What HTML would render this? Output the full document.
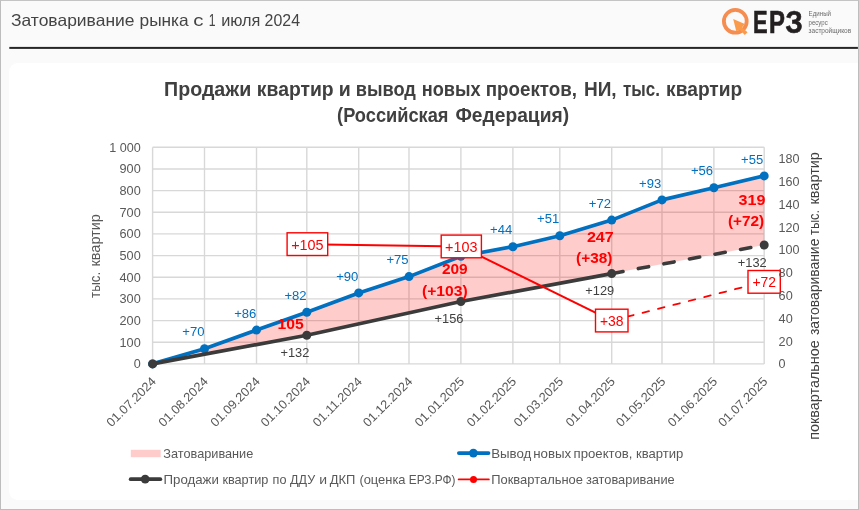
<!DOCTYPE html>
<html lang="ru">
<head>
<meta charset="utf-8">
<title>Затоваривание рынка с 1 июля 2024</title>
<style>
html,body{margin:0;padding:0;}
body{width:859px;height:510px;overflow:hidden;background:#FAFAFA;font-family:"Liberation Sans",sans-serif;position:relative;}
.frame{position:absolute;left:0;top:0;width:859px;height:510px;box-sizing:border-box;border-left:1.3px solid #BDBDBD;border-top:1px solid #C4C4C4;border-right:1.2px solid #BDBDBD;border-bottom:1.5px solid #BDBDBD;pointer-events:none;}
.panel{position:absolute;left:9px;top:62.5px;width:880px;height:437.5px;background:#FFFFFF;border-radius:9px;}
svg{position:absolute;left:0;top:0;font-family:"Liberation Sans",sans-serif;}
</style>
</head>
<body>
<div class="panel"></div>
<svg width="859" height="510" viewBox="0 0 859 510">
<line x1="152.6" x2="764.2" y1="363.9" y2="363.9" stroke="#D8D8D8" stroke-width="1.4"/>
<line x1="152.6" x2="764.2" y1="342.2" y2="342.2" stroke="#D8D8D8" stroke-width="1.4"/>
<line x1="152.6" x2="764.2" y1="320.6" y2="320.6" stroke="#D8D8D8" stroke-width="1.4"/>
<line x1="152.6" x2="764.2" y1="298.9" y2="298.9" stroke="#D8D8D8" stroke-width="1.4"/>
<line x1="152.6" x2="764.2" y1="277.3" y2="277.3" stroke="#D8D8D8" stroke-width="1.4"/>
<line x1="152.6" x2="764.2" y1="255.6" y2="255.6" stroke="#D8D8D8" stroke-width="1.4"/>
<line x1="152.6" x2="764.2" y1="233.9" y2="233.9" stroke="#D8D8D8" stroke-width="1.4"/>
<line x1="152.6" x2="764.2" y1="212.3" y2="212.3" stroke="#D8D8D8" stroke-width="1.4"/>
<line x1="152.6" x2="764.2" y1="190.6" y2="190.6" stroke="#D8D8D8" stroke-width="1.4"/>
<line x1="152.6" x2="764.2" y1="169.0" y2="169.0" stroke="#D8D8D8" stroke-width="1.4"/>
<line x1="152.6" x2="764.2" y1="147.3" y2="147.3" stroke="#D8D8D8" stroke-width="1.4"/>
<line x1="152.6" x2="152.6" y1="147.3" y2="363.9" stroke="#D8D8D8" stroke-width="1.4"/>
<line x1="204.5" x2="204.5" y1="147.3" y2="363.9" stroke="#D8D8D8" stroke-width="1.4"/>
<line x1="256.5" x2="256.5" y1="147.3" y2="363.9" stroke="#D8D8D8" stroke-width="1.4"/>
<line x1="306.8" x2="306.8" y1="147.3" y2="363.9" stroke="#D8D8D8" stroke-width="1.4"/>
<line x1="358.7" x2="358.7" y1="147.3" y2="363.9" stroke="#D8D8D8" stroke-width="1.4"/>
<line x1="409.0" x2="409.0" y1="147.3" y2="363.9" stroke="#D8D8D8" stroke-width="1.4"/>
<line x1="460.9" x2="460.9" y1="147.3" y2="363.9" stroke="#D8D8D8" stroke-width="1.4"/>
<line x1="512.9" x2="512.9" y1="147.3" y2="363.9" stroke="#D8D8D8" stroke-width="1.4"/>
<line x1="559.8" x2="559.8" y1="147.3" y2="363.9" stroke="#D8D8D8" stroke-width="1.4"/>
<line x1="611.7" x2="611.7" y1="147.3" y2="363.9" stroke="#D8D8D8" stroke-width="1.4"/>
<line x1="662.0" x2="662.0" y1="147.3" y2="363.9" stroke="#D8D8D8" stroke-width="1.4"/>
<line x1="713.9" x2="713.9" y1="147.3" y2="363.9" stroke="#D8D8D8" stroke-width="1.4"/>
<line x1="764.2" x2="764.2" y1="147.3" y2="363.9" stroke="#D8D8D8" stroke-width="1.4"/>
<polygon points="152.6,363.9 204.5,348.7 256.5,330.1 306.8,312.3 358.7,292.9 409.0,276.6 460.9,256.2 512.9,246.7 559.8,235.7 611.7,220.1 662.0,199.9 713.9,187.8 764.2,175.9 764.2,245.0 611.7,273.6 460.9,301.5 306.8,335.3 152.6,363.9" fill="#FF0000" fill-opacity="0.2"/>
<polyline points="152.6,363.9 204.5,348.7 256.5,330.1 306.8,312.3 358.7,292.9 409.0,276.6 460.9,256.2 512.9,246.7 559.8,235.7 611.7,220.1 662.0,199.9 713.9,187.8 764.2,175.9" fill="none" stroke="#0070C0" stroke-width="3.7" stroke-linejoin="round" stroke-linecap="round"/>
<circle cx="152.6" cy="363.9" r="4.5" fill="#0070C0"/>
<circle cx="204.5" cy="348.7" r="4.5" fill="#0070C0"/>
<circle cx="256.5" cy="330.1" r="4.5" fill="#0070C0"/>
<circle cx="306.8" cy="312.3" r="4.5" fill="#0070C0"/>
<circle cx="358.7" cy="292.9" r="4.5" fill="#0070C0"/>
<circle cx="409.0" cy="276.6" r="4.5" fill="#0070C0"/>
<circle cx="460.9" cy="256.2" r="4.5" fill="#0070C0"/>
<circle cx="512.9" cy="246.7" r="4.5" fill="#0070C0"/>
<circle cx="559.8" cy="235.7" r="4.5" fill="#0070C0"/>
<circle cx="611.7" cy="220.1" r="4.5" fill="#0070C0"/>
<circle cx="662.0" cy="199.9" r="4.5" fill="#0070C0"/>
<circle cx="713.9" cy="187.8" r="4.5" fill="#0070C0"/>
<circle cx="764.2" cy="175.9" r="4.5" fill="#0070C0"/>
<polyline points="152.6,363.9 306.8,335.3 460.9,301.5 611.7,273.6" fill="none" stroke="#3B3B3B" stroke-width="3.7" stroke-linejoin="round" stroke-linecap="round"/>
<line x1="611.7" y1="273.6" x2="764.2" y2="245.0" stroke="#3B3B3B" stroke-width="3.6" stroke-linecap="round" stroke-dasharray="10.4 15.6" stroke-dashoffset="-1.1"/>
<circle cx="152.6" cy="363.9" r="4.5" fill="#3B3B3B"/>
<circle cx="306.8" cy="335.3" r="4.5" fill="#3B3B3B"/>
<circle cx="460.9" cy="301.5" r="4.5" fill="#3B3B3B"/>
<circle cx="611.7" cy="273.6" r="4.5" fill="#3B3B3B"/>
<circle cx="764.2" cy="245.0" r="4.5" fill="#3B3B3B"/>
<polyline points="306.8,244.2 460.9,246.5 611.7,320.6" fill="none" stroke="#FF0000" stroke-width="2" stroke-linejoin="round"/>
<line x1="611.7" y1="320.6" x2="764.2" y2="281.8" stroke="#FF0000" stroke-width="1.8" stroke-linecap="round" stroke-dasharray="6.7 9.2"/>
<text x="182.3" y="336.3" font-size="12.5" fill="#0070C0" text-anchor="start" textLength="22.2" lengthAdjust="spacingAndGlyphs">+70</text>
<text x="234.2" y="317.7" font-size="12.5" fill="#0070C0" text-anchor="start" textLength="22.2" lengthAdjust="spacingAndGlyphs">+86</text>
<text x="284.4" y="299.9" font-size="12.5" fill="#0070C0" text-anchor="start" textLength="22.2" lengthAdjust="spacingAndGlyphs">+82</text>
<text x="336.2" y="280.5" font-size="12.5" fill="#0070C0" text-anchor="start" textLength="22.2" lengthAdjust="spacingAndGlyphs">+90</text>
<text x="386.4" y="264.2" font-size="12.5" fill="#0070C0" text-anchor="start" textLength="22.2" lengthAdjust="spacingAndGlyphs">+75</text>
<text x="490.1" y="234.3" font-size="12.5" fill="#0070C0" text-anchor="start" textLength="22.2" lengthAdjust="spacingAndGlyphs">+44</text>
<text x="537.0" y="223.3" font-size="12.5" fill="#0070C0" text-anchor="start" textLength="22.2" lengthAdjust="spacingAndGlyphs">+51</text>
<text x="588.8" y="207.7" font-size="12.5" fill="#0070C0" text-anchor="start" textLength="22.2" lengthAdjust="spacingAndGlyphs">+72</text>
<text x="639.0" y="187.5" font-size="12.5" fill="#0070C0" text-anchor="start" textLength="22.2" lengthAdjust="spacingAndGlyphs">+93</text>
<text x="690.9" y="175.4" font-size="12.5" fill="#0070C0" text-anchor="start" textLength="22.2" lengthAdjust="spacingAndGlyphs">+56</text>
<text x="741.0" y="163.5" font-size="12.5" fill="#0070C0" text-anchor="start" textLength="22.2" lengthAdjust="spacingAndGlyphs">+55</text>
<text x="280.4" y="356.9" font-size="12.5" fill="#404040" text-anchor="start" textLength="28.9" lengthAdjust="spacingAndGlyphs">+132</text>
<text x="434.5" y="323.1" font-size="12.5" fill="#404040" text-anchor="start" textLength="28.9" lengthAdjust="spacingAndGlyphs">+156</text>
<text x="585.3" y="295.2" font-size="12.5" fill="#404040" text-anchor="start" textLength="28.9" lengthAdjust="spacingAndGlyphs">+129</text>
<text x="737.8" y="266.6" font-size="12.5" fill="#404040" text-anchor="start" textLength="28.9" lengthAdjust="spacingAndGlyphs">+132</text>
<text x="277.5" y="329.1" font-size="14.8" fill="#FF0000" text-anchor="start" font-weight="bold" textLength="26.2" lengthAdjust="spacingAndGlyphs">105</text>
<text x="441.9" y="273.8" font-size="14.8" fill="#FF0000" text-anchor="start" font-weight="bold" textLength="25.8" lengthAdjust="spacingAndGlyphs">209</text>
<text x="422.0" y="296.2" font-size="14.8" fill="#FF0000" text-anchor="start" font-weight="bold" textLength="45.7" lengthAdjust="spacingAndGlyphs">(+103)</text>
<text x="586.9" y="241.9" font-size="14.8" fill="#FF0000" text-anchor="start" font-weight="bold" textLength="26.9" lengthAdjust="spacingAndGlyphs">247</text>
<text x="576.1" y="262.5" font-size="14.8" fill="#FF0000" text-anchor="start" font-weight="bold" textLength="36.3" lengthAdjust="spacingAndGlyphs">(+38)</text>
<text x="738.5" y="205.1" font-size="14.8" fill="#FF0000" text-anchor="start" font-weight="bold" textLength="26.9" lengthAdjust="spacingAndGlyphs">319</text>
<text x="727.9" y="226.3" font-size="14.8" fill="#FF0000" text-anchor="start" font-weight="bold" textLength="36.3" lengthAdjust="spacingAndGlyphs">(+72)</text>
<rect x="287.1" y="232.8" width="40.6" height="22.7" fill="#FFFFFF" stroke="#FF0000" stroke-width="1.4"/>
<text x="291.2" y="249.5" font-size="14.1" fill="#FF0000" text-anchor="start" textLength="32.4" lengthAdjust="spacingAndGlyphs">+105</text>
<rect x="441.2" y="235.1" width="40.2" height="22.7" fill="#FFFFFF" stroke="#FF0000" stroke-width="1.4"/>
<text x="445.1" y="251.8" font-size="14.1" fill="#FF0000" text-anchor="start" textLength="32.4" lengthAdjust="spacingAndGlyphs">+103</text>
<rect x="595.5" y="309.2" width="32.5" height="22.7" fill="#FFFFFF" stroke="#FF0000" stroke-width="1.4"/>
<text x="599.9" y="325.9" font-size="14.1" fill="#FF0000" text-anchor="start" textLength="23.6" lengthAdjust="spacingAndGlyphs">+38</text>
<rect x="748.0" y="270.5" width="32.3" height="22.7" fill="#FFFFFF" stroke="#FF0000" stroke-width="1.4"/>
<text x="752.4" y="287.1" font-size="14.1" fill="#FF0000" text-anchor="start" textLength="23.6" lengthAdjust="spacingAndGlyphs">+72</text>
<text x="133.7" y="368.3" font-size="12.5" fill="#595959" text-anchor="start" textLength="7.0" lengthAdjust="spacingAndGlyphs">0</text>
<text x="119.5" y="346.7" font-size="12.5" fill="#595959" text-anchor="start" textLength="21.2" lengthAdjust="spacingAndGlyphs">100</text>
<text x="119.5" y="325.0" font-size="12.5" fill="#595959" text-anchor="start" textLength="21.2" lengthAdjust="spacingAndGlyphs">200</text>
<text x="119.5" y="303.4" font-size="12.5" fill="#595959" text-anchor="start" textLength="21.2" lengthAdjust="spacingAndGlyphs">300</text>
<text x="119.5" y="281.7" font-size="12.5" fill="#595959" text-anchor="start" textLength="21.2" lengthAdjust="spacingAndGlyphs">400</text>
<text x="119.5" y="260.1" font-size="12.5" fill="#595959" text-anchor="start" textLength="21.2" lengthAdjust="spacingAndGlyphs">500</text>
<text x="119.5" y="238.4" font-size="12.5" fill="#595959" text-anchor="start" textLength="21.2" lengthAdjust="spacingAndGlyphs">600</text>
<text x="119.5" y="216.7" font-size="12.5" fill="#595959" text-anchor="start" textLength="21.2" lengthAdjust="spacingAndGlyphs">700</text>
<text x="119.5" y="195.1" font-size="12.5" fill="#595959" text-anchor="start" textLength="21.2" lengthAdjust="spacingAndGlyphs">800</text>
<text x="119.5" y="173.4" font-size="12.5" fill="#595959" text-anchor="start" textLength="21.2" lengthAdjust="spacingAndGlyphs">900</text>
<text x="109.2" y="151.8" font-size="12.5" fill="#595959" text-anchor="start" textLength="31.5" lengthAdjust="spacingAndGlyphs">1 000</text>
<text x="778.6" y="368.3" font-size="12.5" fill="#595959" text-anchor="start" textLength="7.0" lengthAdjust="spacingAndGlyphs">0</text>
<text x="778.6" y="345.5" font-size="12.5" fill="#595959" text-anchor="start" textLength="14.1" lengthAdjust="spacingAndGlyphs">20</text>
<text x="778.6" y="322.7" font-size="12.5" fill="#595959" text-anchor="start" textLength="14.1" lengthAdjust="spacingAndGlyphs">40</text>
<text x="778.6" y="299.9" font-size="12.5" fill="#595959" text-anchor="start" textLength="14.1" lengthAdjust="spacingAndGlyphs">60</text>
<text x="778.6" y="277.1" font-size="12.5" fill="#595959" text-anchor="start" textLength="14.1" lengthAdjust="spacingAndGlyphs">80</text>
<text x="778.6" y="254.3" font-size="12.5" fill="#595959" text-anchor="start" textLength="21.0" lengthAdjust="spacingAndGlyphs">100</text>
<text x="778.6" y="231.5" font-size="12.5" fill="#595959" text-anchor="start" textLength="21.0" lengthAdjust="spacingAndGlyphs">120</text>
<text x="778.6" y="208.7" font-size="12.5" fill="#595959" text-anchor="start" textLength="21.0" lengthAdjust="spacingAndGlyphs">140</text>
<text x="778.6" y="185.9" font-size="12.5" fill="#595959" text-anchor="start" textLength="21.0" lengthAdjust="spacingAndGlyphs">160</text>
<text x="778.6" y="163.1" font-size="12.5" fill="#595959" text-anchor="start" textLength="21.0" lengthAdjust="spacingAndGlyphs">180</text>
<text transform="translate(156.8,382.3) rotate(-45)" x="-64" y="0" font-size="12.5" fill="#595959" textLength="64" lengthAdjust="spacingAndGlyphs">01.07.2024</text>
<text transform="translate(208.7,382.3) rotate(-45)" x="-64" y="0" font-size="12.5" fill="#595959" textLength="64" lengthAdjust="spacingAndGlyphs">01.08.2024</text>
<text transform="translate(260.7,382.3) rotate(-45)" x="-64" y="0" font-size="12.5" fill="#595959" textLength="64" lengthAdjust="spacingAndGlyphs">01.09.2024</text>
<text transform="translate(311.0,382.3) rotate(-45)" x="-64" y="0" font-size="12.5" fill="#595959" textLength="64" lengthAdjust="spacingAndGlyphs">01.10.2024</text>
<text transform="translate(362.9,382.3) rotate(-45)" x="-64" y="0" font-size="12.5" fill="#595959" textLength="64" lengthAdjust="spacingAndGlyphs">01.11.2024</text>
<text transform="translate(413.2,382.3) rotate(-45)" x="-64" y="0" font-size="12.5" fill="#595959" textLength="64" lengthAdjust="spacingAndGlyphs">01.12.2024</text>
<text transform="translate(465.1,382.3) rotate(-45)" x="-64" y="0" font-size="12.5" fill="#595959" textLength="64" lengthAdjust="spacingAndGlyphs">01.01.2025</text>
<text transform="translate(517.1,382.3) rotate(-45)" x="-64" y="0" font-size="12.5" fill="#595959" textLength="64" lengthAdjust="spacingAndGlyphs">01.02.2025</text>
<text transform="translate(564.0,382.3) rotate(-45)" x="-64" y="0" font-size="12.5" fill="#595959" textLength="64" lengthAdjust="spacingAndGlyphs">01.03.2025</text>
<text transform="translate(615.9,382.3) rotate(-45)" x="-64" y="0" font-size="12.5" fill="#595959" textLength="64" lengthAdjust="spacingAndGlyphs">01.04.2025</text>
<text transform="translate(666.2,382.3) rotate(-45)" x="-64" y="0" font-size="12.5" fill="#595959" textLength="64" lengthAdjust="spacingAndGlyphs">01.05.2025</text>
<text transform="translate(718.1,382.3) rotate(-45)" x="-64" y="0" font-size="12.5" fill="#595959" textLength="64" lengthAdjust="spacingAndGlyphs">01.06.2025</text>
<text transform="translate(768.4,382.3) rotate(-45)" x="-64" y="0" font-size="12.5" fill="#595959" textLength="64" lengthAdjust="spacingAndGlyphs">01.07.2025</text>
<text y="0.0" font-size="14.1" fill="#595959" transform="translate(99.6,297.2) rotate(-90)"><tspan x="-0.7" textLength="26.0" lengthAdjust="spacingAndGlyphs">тыс.</tspan> <tspan x="30.7" textLength="52.4" lengthAdjust="spacingAndGlyphs">квартир</tspan></text>
<text y="0.0" font-size="14.1" fill="#404040" transform="translate(818.7,439.1) rotate(-90)"><tspan x="-0.7" textLength="99.5" lengthAdjust="spacingAndGlyphs">поквартальное</tspan> <tspan x="104.0" textLength="96.5" lengthAdjust="spacingAndGlyphs">затоваривание</tspan> <tspan x="204.2" textLength="24.9" lengthAdjust="spacingAndGlyphs">тыс.</tspan> <tspan x="234.6" textLength="52.4" lengthAdjust="spacingAndGlyphs">квартир</tspan></text>
<rect x="130.8" y="449.8" width="29.9" height="7.4" fill="#FFCCCC"/>
<text x="163.3" y="457.6" font-size="13" fill="#595959" text-anchor="start" textLength="90.0" lengthAdjust="spacingAndGlyphs">Затоваривание</text>
<line x1="130.7" x2="160.3" y1="479.2" y2="479.2" stroke="#3B3B3B" stroke-width="3.8" stroke-linecap="round"/><circle cx="145.2" cy="479.2" r="4.4" fill="#3B3B3B"/>
<text y="483.7" font-size="13" fill="#595959"><tspan x="163.5" textLength="55.4" lengthAdjust="spacingAndGlyphs">Продажи</tspan> <tspan x="222.4" textLength="46.0" lengthAdjust="spacingAndGlyphs">квартир</tspan> <tspan x="272.6" textLength="13.9" lengthAdjust="spacingAndGlyphs">по</tspan> <tspan x="290.1" textLength="25.0" lengthAdjust="spacingAndGlyphs">ДДУ</tspan> <tspan x="319.2" textLength="7.8" lengthAdjust="spacingAndGlyphs">и</tspan> <tspan x="329.7" textLength="25.7" lengthAdjust="spacingAndGlyphs">ДКП</tspan> <tspan x="359.4" textLength="46.1" lengthAdjust="spacingAndGlyphs">(оценка</tspan> <tspan x="408.8" textLength="46.7" lengthAdjust="spacingAndGlyphs">ЕРЗ.РФ)</tspan></text>
<line x1="458.9" x2="488.5" y1="453.1" y2="453.1" stroke="#0070C0" stroke-width="3.8" stroke-linecap="round"/><circle cx="473.4" cy="453.1" r="4.4" fill="#0070C0"/>
<text y="457.6" font-size="13" fill="#595959"><tspan x="491.2" textLength="40.2" lengthAdjust="spacingAndGlyphs">Вывод</tspan> <tspan x="533.2" textLength="38.0" lengthAdjust="spacingAndGlyphs">новых</tspan> <tspan x="573.6" textLength="58.8" lengthAdjust="spacingAndGlyphs">проектов,</tspan> <tspan x="636.0" textLength="47.3" lengthAdjust="spacingAndGlyphs">квартир</tspan></text>
<line x1="458.7" x2="488.8" y1="479.4" y2="479.4" stroke="#FF0000" stroke-width="1.9" stroke-linecap="round"/><circle cx="473.5" cy="479.4" r="3.5" fill="#FF0000"/>
<text y="483.6" font-size="13" fill="#595959"><tspan x="491.2" textLength="91.8" lengthAdjust="spacingAndGlyphs">Поквартальное</tspan> <tspan x="585.9" textLength="88.8" lengthAdjust="spacingAndGlyphs">затоваривание</tspan></text>
<text y="96.0" font-size="19.4" fill="#404040" font-weight="bold"><tspan x="164.1" textLength="87.1" lengthAdjust="spacingAndGlyphs">Продажи</tspan> <tspan x="256.8" textLength="76.9" lengthAdjust="spacingAndGlyphs">квартир</tspan> <tspan x="338.7" textLength="12.0" lengthAdjust="spacingAndGlyphs">и</tspan> <tspan x="355.8" textLength="60.1" lengthAdjust="spacingAndGlyphs">вывод</tspan> <tspan x="421.7" textLength="58.9" lengthAdjust="spacingAndGlyphs">новых</tspan> <tspan x="485.7" textLength="91.3" lengthAdjust="spacingAndGlyphs">проектов,</tspan> <tspan x="583.9" textLength="32.7" lengthAdjust="spacingAndGlyphs">НИ,</tspan> <tspan x="623.0" textLength="36.9" lengthAdjust="spacingAndGlyphs">тыс.</tspan> <tspan x="666.1" textLength="76.2" lengthAdjust="spacingAndGlyphs">квартир</tspan></text>
<text y="122.2" font-size="19.4" fill="#404040" font-weight="bold"><tspan x="337.1" textLength="111.4" lengthAdjust="spacingAndGlyphs">(Российская</tspan> <tspan x="455.4" textLength="113.7" lengthAdjust="spacingAndGlyphs">Федерация)</tspan></text>
<text y="26.1" font-size="16.5" fill="#444444"><tspan x="11.0" textLength="123.5" lengthAdjust="spacingAndGlyphs">Затоваривание</tspan> <tspan x="139.5" textLength="49.2" lengthAdjust="spacingAndGlyphs">рынка</tspan> <tspan x="193.3" textLength="10.2" lengthAdjust="spacingAndGlyphs">с</tspan> <tspan x="208.7" textLength="6.8" lengthAdjust="spacingAndGlyphs">1</tspan> <tspan x="221.2" textLength="39.2" lengthAdjust="spacingAndGlyphs">июля</tspan> <tspan x="264.6" textLength="35.4" lengthAdjust="spacingAndGlyphs">2024</tspan></text>
<rect x="9.3" y="46.9" width="848.6" height="2" fill="#262626"/>
<circle cx="735.3" cy="21.3" r="11.4" fill="none" stroke="#F58C50" stroke-width="3.8"/>
<polygon points="733.2,18.9 744.8,24.0 742.0,27.5 747.5,32.2 744.8,34.9 740.0,30.0 736.2,31.0" fill="#FA9B4B" stroke="#FAFAFA" stroke-width="0"/>
<text y="32.8" font-size="31.3" fill="#231F20" font-weight="bold" stroke="#231F20" stroke-width="0.7"><tspan x="753.0" textLength="14.6" lengthAdjust="spacingAndGlyphs">Е</tspan><tspan x="768.9" textLength="15.9" lengthAdjust="spacingAndGlyphs">Р</tspan><tspan x="785.6" textLength="17.2" lengthAdjust="spacingAndGlyphs">З</tspan></text>
<text x="808.6" y="16.2" font-size="6.8" fill="#6b6b6b" text-anchor="start" textLength="22.4" lengthAdjust="spacingAndGlyphs">Единый</text>
<text x="808.6" y="24.6" font-size="6.8" fill="#6b6b6b" text-anchor="start" textLength="19.1" lengthAdjust="spacingAndGlyphs">ресурс</text>
<text x="808.6" y="32.8" font-size="6.8" fill="#6b6b6b" text-anchor="start" textLength="42.5" lengthAdjust="spacingAndGlyphs">застройщиков</text>
</svg>
<div class="frame"></div>
</body>
</html>
